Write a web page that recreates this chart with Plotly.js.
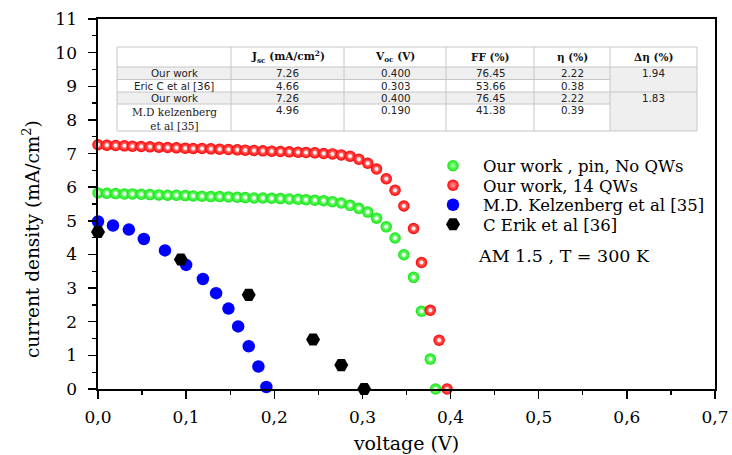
<!DOCTYPE html>
<html>
<head>
<meta charset="utf-8">
<script src="https://cdn.plot.ly/plotly-3.0.1.min.js"></script>
<style>
  html, body { margin: 0; padding: 0; background: #fff; }
  #chart { width: 732px; height: 455px; }
</style>
</head>
<body>
<div id="chart"></div>
<script>
// ---------------- data ----------------
const voltRed = [0.000, 0.010, 0.020, 0.030, 0.039, 0.049, 0.059, 0.069, 0.079, 0.089,
  0.099, 0.108, 0.118, 0.128, 0.138, 0.148, 0.158, 0.167, 0.177, 0.187,
  0.197, 0.207, 0.217, 0.227, 0.236, 0.246, 0.256, 0.266, 0.276, 0.286,
  0.296, 0.306, 0.316, 0.327, 0.337, 0.347, 0.358, 0.367, 0.377, 0.387, 0.396];
const currRed = [7.26, 7.25, 7.24, 7.23, 7.22, 7.21, 7.20, 7.19, 7.18, 7.17,
  7.16, 7.15, 7.15, 7.14, 7.13, 7.12, 7.11, 7.10, 7.09, 7.08,
  7.07, 7.06, 7.05, 7.04, 7.03, 7.02, 7.00, 6.99, 6.96, 6.92,
  6.83, 6.71, 6.54, 6.25, 5.91, 5.44, 4.77, 3.76, 2.34, 1.45, 0.00];

const voltGreen = [0.000, 0.010, 0.020, 0.030, 0.039, 0.049, 0.059, 0.069, 0.079, 0.089,
  0.099, 0.108, 0.118, 0.128, 0.138, 0.148, 0.158, 0.167, 0.177, 0.187,
  0.197, 0.207, 0.217, 0.227, 0.236, 0.246, 0.256, 0.266, 0.276, 0.286,
  0.296, 0.306, 0.316, 0.327, 0.337, 0.347, 0.358, 0.367, 0.377, 0.383];
const currGreen = [5.83, 5.82, 5.81, 5.80, 5.80, 5.79, 5.78, 5.77, 5.76, 5.76,
  5.75, 5.74, 5.73, 5.72, 5.72, 5.71, 5.70, 5.69, 5.68, 5.68,
  5.67, 5.66, 5.65, 5.64, 5.63, 5.61, 5.60, 5.57, 5.53, 5.46,
  5.37, 5.26, 5.08, 4.82, 4.49, 3.99, 3.32, 2.31, 0.89, 0.00];

const voltBlue = [0.000, 0.017, 0.035, 0.052, 0.076, 0.100, 0.119, 0.134, 0.148, 0.159, 0.171, 0.182, 0.191];
const currBlue = [4.98, 4.86, 4.74, 4.46, 4.12, 3.69, 3.27, 2.85, 2.39, 1.86, 1.27, 0.67, 0.06];

const voltBlack = [0.000, 0.094, 0.171, 0.244, 0.276, 0.302];
const currBlack = [4.67, 3.85, 2.80, 1.47, 0.71, 0.00];

const seriesNames = ['Our work , pin, No QWs', 'Our work, 14 QWs', 'M.D. Kelzenberg et al [35]', 'C Erik et al [36]'];

const xTickVals = [0, 0.1, 0.2, 0.3, 0.4, 0.5, 0.6, 0.7];
const yTickVals = [0, 1, 2, 3, 4, 5, 6, 7, 8, 9, 10, 11];

const xTitle = 'voltage (V)';
const yTitle = 'current density (mA/cm<sup>2</sup>)';

const tableHeader = ['', 'J<sub>sc</sub> (mA/cm<sup>2</sup>)', 'V<sub>oc</sub> (V)', 'FF (%)', 'η (%)', 'Δη (%)'];
const tableRowLabels = ['Our work', 'Eric C et al [36]', 'Our work', 'M.D kelzenberg<br>et al [35]'];
const tableJsc = ['7.26', '4.66', '7.26', '4.96'];
const tableVoc = ['0.400', '0.303', '0.400', '0.190'];
const tableFF = ['76.45', '53.66', '76.45', '41.38'];
const tableEta = ['2.22', '0.38', '2.22', '0.39'];
const tableDeltaEta = ['1.94', '1.83'];

const conditionText = 'AM 1.5 , T = 300 K';

// ---------------- layout geometry ----------------
const W = 732, H = 455;
const M = {l: 98, r: 17, t: 19, b: 66};
const PW = W - M.l - M.r, PH = H - M.t - M.b;
const px = x => (x - M.l) / PW;
const py = y => (H - M.b - y) / PH;

const serif = 'DejaVu Serif, serif';
const sans = 'DejaVu Sans, Verdana, sans-serif';

// table geometry (pixels)
const colEdges = [117, 231, 344, 446, 534, 610, 697];
const rowEdges = [47, 67, 79.5, 92, 104, 131];
const gridColor = '#c6c6c6';
const shade = '#efefef';

const shapes = [];
const annotations = [];

function rect(x0, y0, x1, y1, fill) {
  shapes.push({type: 'rect', xref: 'paper', yref: 'paper',
    x0: px(x0), x1: px(x1), y0: py(y1), y1: py(y0),
    fillcolor: fill, line: {width: 0}, layer: 'above'});
}
function line(x0, y0, x1, y1) {
  shapes.push({type: 'line', xref: 'paper', yref: 'paper',
    x0: px(x0), x1: px(x1), y0: py(y0), y1: py(y1),
    line: {color: gridColor, width: 1}, layer: 'above'});
}
function text(t, xc, yc, font, yanchor) {
  annotations.push({xref: 'paper', yref: 'paper', x: px(xc), y: py(yc),
    xanchor: 'center', yanchor: yanchor || 'middle', text: t, showarrow: false,
    font: font, align: 'center'});
}

// backgrounds
rect(colEdges[0], rowEdges[0], colEdges[6], rowEdges[5], '#ffffff');
rect(colEdges[0], rowEdges[1], colEdges[5], rowEdges[2], shade);
rect(colEdges[0], rowEdges[3], colEdges[5], rowEdges[4], shade);
rect(colEdges[5], rowEdges[1], colEdges[6], rowEdges[5], shade);

// grid lines
line(colEdges[0], rowEdges[0], colEdges[6], rowEdges[0]);
line(colEdges[0], rowEdges[5], colEdges[6], rowEdges[5]);
line(colEdges[0], rowEdges[1], colEdges[6], rowEdges[1]);
line(colEdges[0], rowEdges[3], colEdges[6], rowEdges[3]);
line(colEdges[0], rowEdges[2], colEdges[5], rowEdges[2]);
line(colEdges[0], rowEdges[4], colEdges[5], rowEdges[4]);
colEdges.forEach(c => line(c, rowEdges[0], c, rowEdges[5]));

const colCenter = i => (colEdges[i] + colEdges[i + 1]) / 2;
const rowCenter = [73.3, 85.7, 98, 110];
const headFont = {family: serif, size: 10.5, color: '#111'};
const bodyFont = {family: sans, size: 10.3, color: '#222'};

tableHeader.forEach((h, i) => { if (h) text('<b>' + h + '</b>', colCenter(i), 57, headFont); });
tableRowLabels.forEach((r, i) => {
  if (i === 3) {
    annotations.push({xref: 'paper', yref: 'paper', x: px(colCenter(0)), y: py(103.5),
      xanchor: 'center', yanchor: 'top', text: r, showarrow: false, align: 'center',
      font: {family: serif, size: 10.5, color: '#222'}});
  } else {
    text(r, colCenter(0), rowCenter[i], bodyFont);
  }
});
[tableJsc, tableVoc, tableFF, tableEta].forEach((col, ci) => {
  col.forEach((v, ri) => text(v, colCenter(ci + 1), rowCenter[ri], bodyFont));
});
tableDeltaEta.forEach((v, i) => text(v, colCenter(5), rowCenter[i * 2], bodyFont));

// condition text
annotations.push({xref: 'paper', yref: 'paper', x: px(476), y: py(256), xanchor: 'left', yanchor: 'middle',
  text: conditionText, showarrow: false, font: {family: serif, size: 17.5, color: '#000'}});

// y axis title (placed as in the reference, slightly below the plot centre)
annotations.push({xref: 'paper', yref: 'paper', x: px(31), y: py(239), xanchor: 'center', yanchor: 'middle',
  textangle: -90, text: yTitle, showarrow: false, font: {family: serif, size: 18.5, color: '#000'}});

// ---------------- traces ----------------
function sphere(color, hl) {
  return {color: color, size: 11.5, line: {width: 0}, gradient: {type: 'radial', color: hl}};
}
function shine(x, y) {
  return {x: x, y: y, mode: 'markers', type: 'scatter', cliponaxis: false, showlegend: false, hoverinfo: 'skip',
    marker: {color: '#ffffff', size: 4, opacity: 0.85, line: {width: 0}}};
}
const traces = [
  {x: voltGreen, y: currGreen, name: seriesNames[0], legend: 'legend', mode: 'markers', type: 'scatter', cliponaxis: false,
   marker: sphere('#10e810', '#a8ffa8')},
  shine(voltGreen, currGreen),
  {x: voltRed, y: currRed, name: seriesNames[1], legend: 'legend2', mode: 'markers', type: 'scatter', cliponaxis: false,
   marker: sphere('#ff0000', '#ffa0a0')},
  shine(voltRed, currRed),
  {x: voltBlue, y: currBlue, name: seriesNames[2], legend: 'legend3', mode: 'markers', type: 'scatter', cliponaxis: false,
   marker: {color: '#0000ff', size: 12.5, line: {width: 0}}},
  {x: voltBlack, y: currBlack, name: seriesNames[3], legend: 'legend4', mode: 'markers', type: 'scatter', cliponaxis: false,
   marker: {color: '#000000', size: 14, symbol: 'hexagon2', line: {width: 0}}}
];

const axisCommon = {
  showgrid: false, zeroline: false, showline: true, mirror: true,
  linecolor: '#000', linewidth: 1.6,
  ticks: 'outside', ticklen: 8, tickwidth: 1.5, tickcolor: '#000',
  tickfont: {family: serif, size: 17, color: '#000'},
  fixedrange: true
};

function legendAt(yc) {
  return {x: px(423), y: py(yc), xanchor: 'left', yanchor: 'middle', itemwidth: 50,
    bgcolor: 'rgba(0,0,0,0)', borderwidth: 0,
    font: {family: serif, size: 16.5, color: '#000'}};
}

const layout = {
  width: W, height: H,
  margin: M,
  paper_bgcolor: '#fff', plot_bgcolor: '#fff',
  separators: ',.',
  showlegend: true,
  legend: legendAt(166),
  legend2: legendAt(185.5),
  legend3: legendAt(205),
  legend4: legendAt(224.5),
  xaxis: Object.assign({}, axisCommon, {
    range: [0, 0.7], tickvals: xTickVals, tickformat: '.1f',
    minor: {dtick: 0.05, ticks: 'outside', ticklen: 4, tickwidth: 1.3, tickcolor: '#000'},
    ticklabelstandoff: 4,
    title: {text: xTitle, font: {family: serif, size: 19, color: '#000'}, standoff: 10}
  }),
  yaxis: Object.assign({}, axisCommon, {
    range: [0, 11], tickvals: yTickVals,
    minor: {dtick: 0.5, ticks: 'outside', ticklen: 4, tickwidth: 1.3, tickcolor: '#000'},
    ticklabelstandoff: 8
  }),
  shapes: shapes,
  annotations: annotations
};

Plotly.newPlot('chart', traces, layout, {displayModeBar: false, staticPlot: true});
</script>
</body>
</html>
